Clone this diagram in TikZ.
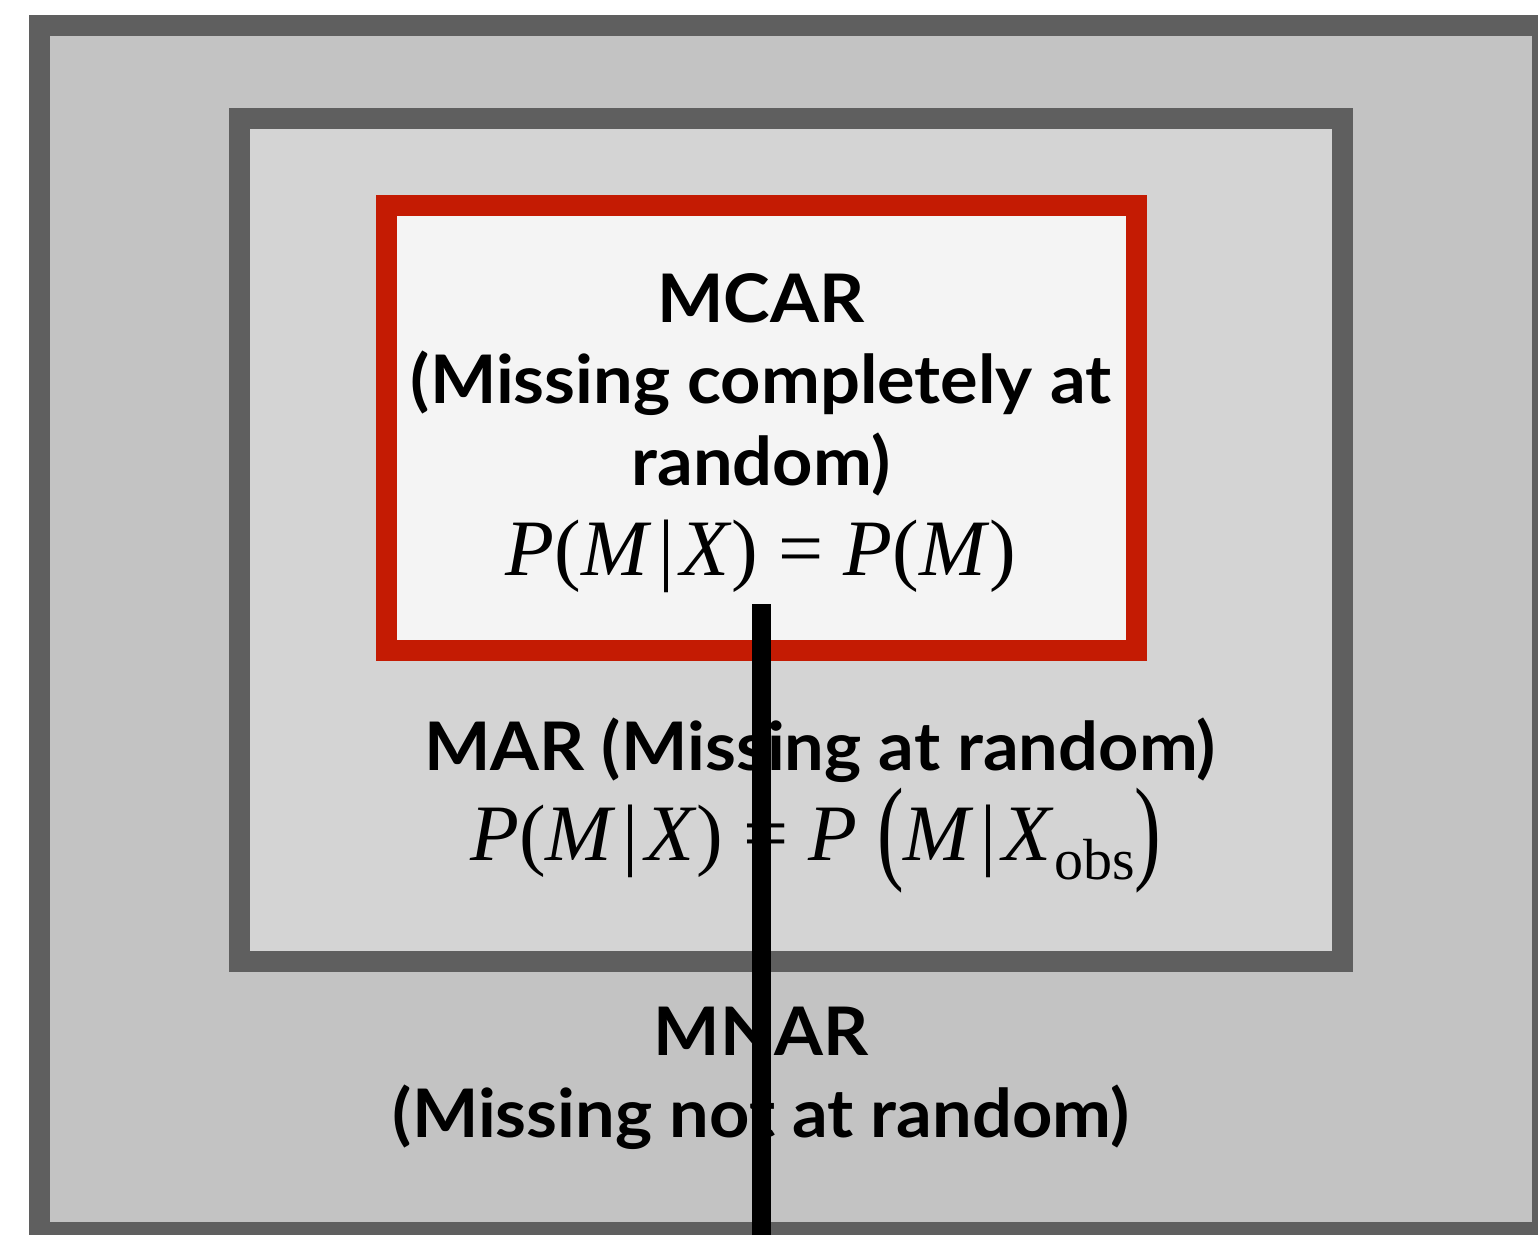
\documentclass[tikz,border=0pt]{standalone}
\usepackage{fontspec}
\usepackage{graphicx}
\newfontfamily\labelfont{Lato}[FakeStretch=1.05]
\newfontfamily\formulafont{Liberation Serif}
\definecolor{frameGray}{HTML}{5F5F5F}
\definecolor{outerFill}{HTML}{C3C3C3}
\definecolor{midFill}{HTML}{D4D4D4}
\definecolor{innerFill}{HTML}{F4F4F4}
\definecolor{mcarRed}{HTML}{C41B03}
% formula helpers
\newcommand{\mv}[1]{\textit{#1}}
\newcommand{\given}{\kern0.08em|\kern0.08em}
\newcommand{\bigparen}[1]{\raisebox{-0.11em}{\scalebox{1}[1.45]{#1}}}
\tikzset{
  region/.style={line width=21pt},
  title/.style={anchor=base, inner sep=0pt, font=\labelfont\bfseries\fontsize{67}{80}\selectfont},
  formula/.style={anchor=base, inner sep=0pt, font=\formulafont\fontsize{80}{90}\selectfont},
}
\begin{document}
\begin{tikzpicture}[x=1pt, y=-1pt]
  \useasboundingbox (0,0) rectangle (1538,1234);
  \clip (0,0) rectangle (1538,1234);
  % nested regions
  \draw[region, draw=frameGray, fill=outerFill] (39.5,25.5) rectangle (1542.5,1232.5);
  \draw[region, draw=frameGray, fill=midFill] (239,118.5) rectangle (1342.5,961.5);
  \draw[region, draw=mcarRed, fill=innerFill] (386.5,205.5) rectangle (1136,650);
  % MCAR
  \node[title] (mcar1) at (761,322) {MCAR};
  \node[title] (mcar2) at (761,403) {(Missing completely at};
  \node[title] (mcar3) at (761,485) {random)};
  \node[formula] (mcarf) at (761,575) {\mv{P}(\mv{M}\given\mv{X}) = \mv{P}(\mv{M})};
  % MAR
  \node[title] (mar1) at (820,770) {MAR (Missing at random)};
  \node[formula] (marf) at (816,860) {\mv{P}(\mv{M}\given\mv{X}) = \mv{P} \bigparen{(}\mv{M}\given\mv{X}\raisebox{-0.24em}{\fontsize{58}{60}\selectfont obs}\bigparen{)}};
  % MNAR
  \node[title] (mnar1) at (761,1055) {MNAR};
  \node[title] (mnar2) at (761,1137) {(Missing not at random)};
  % vertical divider
  \coordinate (divTop) at (761.5,604);
  \coordinate (divBot) at (761.5,1240);
  \draw[line width=19pt, black] (divTop) -- (divBot);
\end{tikzpicture}
\end{document}
